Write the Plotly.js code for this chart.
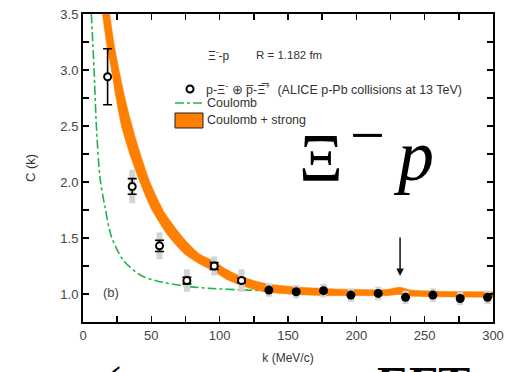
<!DOCTYPE html>
<html>
<head>
<meta charset="utf-8">
<script src="https://cdn.plot.ly/plotly-3.0.1.min.js"></script>
<style>html,body{margin:0;padding:0;background:#fff}#chart{width:505px;height:372px}</style>
</head>
<body>
<div id="chart"></div>
<script>
// ALICE p-Xi data points
var kData   = [18, 36, 56, 76, 96, 116, 136, 156, 176, 196, 216, 236, 256, 276, 296];
var cData   = [2.94, 1.96, 1.43, 1.12, 1.25, 1.12, 1.035, 1.02, 1.03, 0.99, 1.005, 0.97, 0.99, 0.96, 0.97];
var statErr = [0.25, 0.07, 0.05, 0.03, 0.03, 0.02, 0.01, 0.01, 0.01, 0.01, 0.01, 0.01, 0.01, 0.01, 0.01];
var systErr = [0, 0.15, 0.12, 0.10, 0.085, 0.10, 0.06, 0.06, 0.06, 0.06, 0.06, 0.06, 0.06, 0.06, 0.06];
var nOpen = 6;

// Coulomb only curve
var kCoul = [6.1, 8.1, 9.8, 12.5, 16.1, 21, 29.6, 41.8, 54, 73.6, 93, 120, 150, 200, 250, 300];
var cCoul = [3.5, 3.0, 2.5, 2.03, 1.775, 1.505, 1.30, 1.17, 1.117, 1.072, 1.05, 1.035, 1.025, 1.015, 1.01, 1.01];

// Coulomb + strong band (upper and lower edges)
var kUpper = [19.6, 22.8, 26.4, 30, 34, 40, 49, 60, 73.5, 85, 95, 105, 115, 125, 135, 155, 175, 200, 222, 232, 240, 260, 300];
var cUpper = [3.5, 3.23, 3.0, 2.79, 2.59, 2.33, 2.0, 1.72, 1.5, 1.36, 1.30, 1.22, 1.16, 1.12, 1.09, 1.065, 1.05, 1.04, 1.04, 1.06, 1.035, 1.025, 1.02];
var kLower = [14.2, 17.3, 20.8, 24.3, 28.1, 35, 41.6, 50, 62.3, 74, 85, 96, 105, 115, 125, 135, 155, 175, 200, 222, 232, 240, 260, 300];
var cLower = [3.5, 3.23, 3.0, 2.74, 2.5, 2.22, 2.0, 1.76, 1.52, 1.36, 1.27, 1.20, 1.13, 1.08, 1.04, 1.015, 0.995, 0.985, 0.985, 0.985, 0.995, 0.98, 0.975, 0.97];

var xTicks = [0, 50, 100, 150, 200, 250, 300];
var yTicks = [1.0, 1.5, 2.0, 2.5, 3.0, 3.5];

var orange = '#ff7f00';
var green = '#1fb451';

var traces = [
  {x: kCoul, y: cCoul, type: 'scatter', mode: 'lines',
   line: {color: green, width: 1.6, dash: 'dashdot', shape: 'spline', smoothing: 0.8}, hoverinfo: 'skip'},
  {x: kLower, y: cLower, type: 'scatter', mode: 'lines',
   line: {color: orange, width: 0.5, shape: 'spline', smoothing: 0.6}, hoverinfo: 'skip'},
  {x: kUpper, y: cUpper, type: 'scatter', mode: 'lines', fill: 'tonexty', fillcolor: orange,
   line: {color: orange, width: 0.5, shape: 'spline', smoothing: 0.6}, hoverinfo: 'skip'},
  // systematic gray bars
  {x: kData, y: cData, type: 'scatter', mode: 'markers', marker: {size: 1, color: 'rgba(0,0,0,0)'},
   error_y: {type: 'data', array: systErr, color: '#d3d3d3', thickness: 6, width: 0}},
  // open points
  {x: kData.slice(0, nOpen), y: cData.slice(0, nOpen), type: 'scatter', mode: 'markers',
   marker: {symbol: 'circle', size: 7, color: '#fff', line: {color: '#000', width: 2}},
   error_y: {type: 'data', array: statErr.slice(0, nOpen), color: '#000', thickness: 1.6, width: 4.5}},
  // filled points
  {x: kData.slice(nOpen), y: cData.slice(nOpen), type: 'scatter', mode: 'markers',
   marker: {symbol: 'circle', size: 9, color: '#000'},
   error_y: {type: 'data', array: statErr.slice(nOpen), color: '#000', thickness: 1.5, width: 3}}
];

function px2x(px){ return (px - 83) / 410; }
function py2y(py){ return (322 - py) / 308; }

var sans = 'Liberation Sans, Arial, sans-serif';
var serif = 'Liberation Serif, DejaVu Serif, serif';
var lfont = {family: sans, size: 12.5, color: '#333'};

var annotations = [
  {xref: 'paper', yref: 'paper', x: px2x(206), y: py2y(55), xanchor: 'left', yanchor: 'middle',
   text: 'Ξ<sup>-</sup>-p', showarrow: false, font: {family: sans, size: 12, color: '#333'}},
  {xref: 'paper', yref: 'paper', x: px2x(254), y: py2y(55), xanchor: 'left', yanchor: 'middle',
   text: 'R = 1.182 fm', showarrow: false, font: {family: sans, size: 11.5, color: '#333'}},
  {xref: 'paper', yref: 'paper', x: px2x(204), y: py2y(89), xanchor: 'left', yanchor: 'middle',
   text: 'p-Ξ<sup>-</sup> ⊕ p̅-Ξ̅<sup>+</sup>\u00A0\u00A0(ALICE p-Pb collisions at 13 TeV)', showarrow: false, font: lfont},
  {xref: 'paper', yref: 'paper', x: px2x(205), y: py2y(103), xanchor: 'left', yanchor: 'middle',
   text: 'Coulomb', showarrow: false, font: lfont},
  {xref: 'paper', yref: 'paper', x: px2x(205), y: py2y(120), xanchor: 'left', yanchor: 'middle',
   text: 'Coulomb + strong', showarrow: false, font: lfont},
  {xref: 'paper', yref: 'paper', x: px2x(111), y: py2y(292), xanchor: 'center', yanchor: 'middle',
   text: '(b)', showarrow: false, font: {family: sans, size: 13, color: '#444'}},
  // arrow
  {xref: 'x', yref: 'paper', x: 232, y: py2y(276), ax: 0, ay: -40, text: '', showarrow: true,
   arrowhead: 2, arrowsize: 1, arrowwidth: 1.5, arrowcolor: '#111'},
  // big overlay label  Ξ⁻p
  {xref: 'paper', yref: 'paper', x: px2x(297), y: py2y(157), xanchor: 'left', yanchor: 'middle',
   text: 'Ξ', showarrow: false, font: {family: serif, size: 68, color: '#000'}},
  {xref: 'paper', yref: 'paper', x: px2x(367), y: py2y(135), xanchor: 'center', yanchor: 'middle',
   text: '−', showarrow: false, font: {family: serif, size: 62, color: '#000'}},
  {xref: 'paper', yref: 'paper', x: px2x(413), y: py2y(156), xanchor: 'center', yanchor: 'middle',
   text: '<i>p</i>', showarrow: false, font: {family: serif, size: 72, color: '#000'}},
  // cropped big text at the bottom
  {xref: 'paper', yref: 'paper', x: px2x(113), y: py2y(355), xanchor: 'center', yanchor: 'top',
   text: '(', showarrow: false, font: {family: serif, size: 48, color: '#000'}},
  {xref: 'paper', yref: 'paper', x: px2x(423), y: py2y(355), xanchor: 'center', yanchor: 'top',
   text: '<b>EFT</b>', showarrow: false, font: {family: serif, size: 48, color: '#000'}}
];

var shapes = [
  {type: 'line', xref: 'paper', yref: 'paper', x0: px2x(175), x1: px2x(205), y0: py2y(103), y1: py2y(103),
   line: {color: green, width: 1.6, dash: 'dashdot'}},
  {type: 'rect', xref: 'paper', yref: 'paper', x0: px2x(175), x1: px2x(203), y0: py2y(128), y1: py2y(113),
   fillcolor: orange, line: {color: '#222', width: 1}},
  {type: 'circle', xref: 'paper', yref: 'paper', xsizemode: 'pixel', ysizemode: 'pixel',
   xanchor: px2x(190), yanchor: py2y(89), x0: -3.5, x1: 3.5, y0: -3.5, y1: 3.5,
   fillcolor: '#fff', line: {color: '#000', width: 2}}
];

var axisCommon = {
  showgrid: false, zeroline: false, showline: true, linecolor: '#000', linewidth: 2,
  mirror: 'allticks', ticks: 'inside', ticklen: 6, tickwidth: 1.5, tickcolor: '#000',
  tickfont: {family: sans, size: 13, color: '#444'}
};

var layout = {
  width: 505, height: 372,
  margin: {l: 83, r: 12, t: 14, b: 50, pad: 0},
  paper_bgcolor: '#fff', plot_bgcolor: '#fff',
  showlegend: false,
  xaxis: Object.assign({}, axisCommon, {
    range: [0, 300], tickmode: 'array', tickvals: xTicks, ticktext: xTicks.map(String),
    minor: {dtick: 25, tick0: 0, ticks: 'inside', ticklen: 6, tickwidth: 1.5, tickcolor: '#000'},
    title: {text: 'k (MeV/c)', standoff: 12, font: {family: sans, size: 12, color: '#333'}}
  }),
  yaxis: Object.assign({}, axisCommon, {
    range: [0.75, 3.5], tickmode: 'array', tickvals: yTicks, ticktext: yTicks.map(function(v){return v.toFixed(1);}),
    minor: {dtick: 0.25, tick0: 0.75, ticks: 'inside', ticklen: 6, tickwidth: 1.5, tickcolor: '#000'},
    title: {text: 'C (k)', standoff: 22, font: {family: sans, size: 13, color: '#333'}}
  }),
  annotations: annotations,
  shapes: shapes
};

Plotly.newPlot('chart', traces, layout, {displayModeBar: false, staticPlot: true});
</script>
</body>
</html>
